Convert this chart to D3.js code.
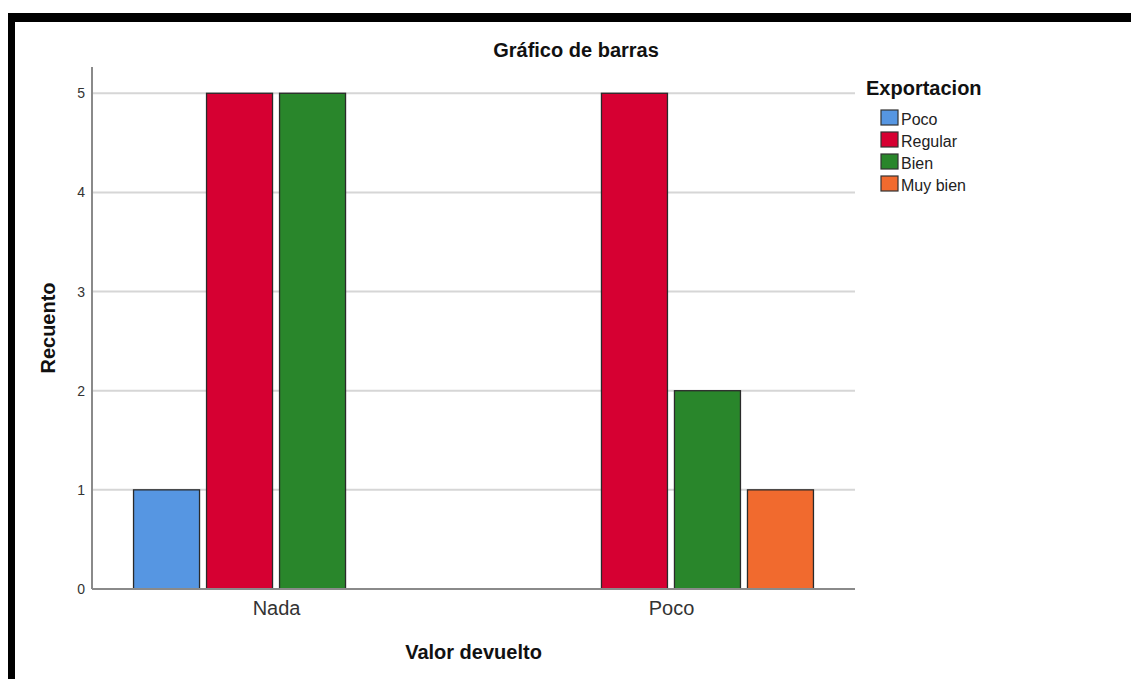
<!DOCTYPE html>
<html><head><meta charset="utf-8">
<script src="https://cdn.jsdelivr.net/npm/d3@7"></script>
<style>body{margin:0;background:#fff}svg{display:block;font-family:"Liberation Sans",Arial,sans-serif}</style>
</head><body><svg id="c" width="1131" height="679"></svg>
<script>
const categories = ["Nada", "Poco"];
const seriesNames = ["Poco", "Regular", "Bien", "Muy bien"];
const seriesColors = ["#5696e2", "#d60032", "#29862b", "#f16a2e"];
const counts = {
  "Poco":     [1, 0],
  "Regular":  [5, 5],
  "Bien":     [5, 2],
  "Muy bien": [0, 1]
};
const yTicks = [0, 1, 2, 3, 4, 5];
const yMax = 5.265;

const svg = d3.select("#c");
// frame border
svg.append("rect").attr("x", 8).attr("y", 13).attr("width", 1131 - 8).attr("height", 9).attr("fill", "#000");
svg.append("rect").attr("x", 8).attr("y", 13).attr("width", 7).attr("height", 679 - 13).attr("fill", "#000");

const L = 92, R = 855, T = 67, B = 589;
const x0 = d3.scalePoint().domain(categories).range([L, R]).padding(0.466);
const groupW = 285;
const x1 = d3.scaleBand().domain(seriesNames).range([-groupW / 2, groupW / 2]).paddingInner(0.096);
const y = d3.scaleLinear().domain([0, yMax]).range([B, T]);
const color = d3.scaleOrdinal().domain(seriesNames).range(seriesColors);

// gridlines
svg.append("g").selectAll("line").data(yTicks.filter(d => d > 0)).join("line")
  .attr("x1", L).attr("x2", R).attr("y1", d => y(d)).attr("y2", d => y(d))
  .attr("stroke", "#d6d6d6").attr("stroke-width", 2);

// bars
const bars = [];
seriesNames.forEach(s => categories.forEach((c, i) => {
  if (counts[s][i] > 0) bars.push({ s, c, v: counts[s][i] });
}));
svg.append("g").selectAll("rect").data(bars).join("rect")
  .attr("x", d => x0(d.c) + x1(d.s))
  .attr("y", d => y(d.v))
  .attr("width", x1.bandwidth())
  .attr("height", d => y(0) - y(d.v))
  .attr("fill", d => color(d.s))
  .attr("stroke", "#2a2a2a").attr("stroke-width", 1.3);

// axes lines
svg.append("line").attr("x1", L).attr("x2", L).attr("y1", T).attr("y2", B).attr("stroke", "#8a8a8a").attr("stroke-width", 2);
svg.append("line").attr("x1", L).attr("x2", R).attr("y1", B).attr("y2", B).attr("stroke", "#8a8a8a").attr("stroke-width", 2);

// y tick labels
const yAxis = d3.axisLeft(y).tickValues(yTicks).tickSize(0).tickPadding(7).tickFormat(d3.format("d"));
const gy = svg.append("g").attr("transform", `translate(${L},0)`).call(yAxis);
gy.select(".domain").remove();
gy.selectAll("text").attr("font-size", 14).attr("fill", "#333").attr("font-family", "Liberation Sans, Arial, sans-serif");

// x tick labels
const xAxis = d3.axisBottom(x0).tickSize(0).tickPadding(12);
const gx = svg.append("g").attr("transform", `translate(0,${B})`).call(xAxis);
gx.select(".domain").remove();
gx.selectAll("text").attr("font-size", 20).attr("fill", "#333").attr("font-family", "Liberation Sans, Arial, sans-serif");

// titles
svg.append("text").attr("x", 576).attr("y", 57).attr("text-anchor", "middle")
  .attr("font-size", 20).attr("font-weight", "bold").attr("fill", "#111").text("Gráfico de barras");
svg.append("text").attr("x", (L + R) / 2).attr("y", 659).attr("text-anchor", "middle")
  .attr("font-size", 20).attr("font-weight", "bold").attr("fill", "#111").text("Valor devuelto");
svg.append("text").attr("transform", `translate(55,${(T + B) / 2}) rotate(-90)`).attr("text-anchor", "middle")
  .attr("font-size", 20).attr("font-weight", "bold").attr("fill", "#111").text("Recuento");

// legend
const lg = svg.append("g");
lg.append("text").attr("x", 866).attr("y", 95).attr("font-size", 20).attr("font-weight", "bold").attr("fill", "#111").text("Exportacion");
const items = lg.selectAll("g.item").data(seriesNames).join("g").attr("class", "item")
  .attr("transform", (d, i) => `translate(881,${110 + i * 22})`);
items.append("rect").attr("width", 17).attr("height", 15).attr("fill", d => color(d)).attr("stroke", "#333").attr("stroke-width", 1.2);
items.append("text").attr("x", 20).attr("y", 14.5).attr("font-size", 16).attr("fill", "#222").text(d => d);
</script></body></html>
